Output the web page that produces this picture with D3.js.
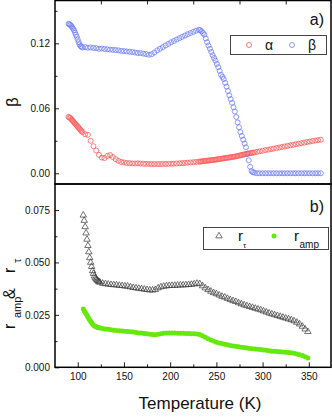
<!DOCTYPE html>
<html><head><meta charset="utf-8">
<script src="https://cdn.jsdelivr.net/npm/d3@7"></script>
<style>
body{margin:0;background:#fff}
svg{display:block}
text{font-family:"Liberation Sans",Arial,sans-serif;fill:#111}
</style>
</head><body>
<svg id="c" width="332" height="417"></svg>
<script>
// ---------- data ----------
const tempA = [90,91,92,93,94,95,96,97,98,99,100,101,102,103,104,105,108,111,114,117,120,123,126,129,132,135,138,141,144,147,150,153,156,159,162,165,168,171,174,177,180,183,186,189,192,195,198,201,204,207,210,213,216,219,222,225,228,231,232.5,234,235.5,237,238.5,240,241.5,243,244.5,246,247.5,249,250.5,252,253.5,255,256.5,258,259.5,261,262.5,264,265.5,267,268.5,270,271.5,273,274.5,276,277.5,279,280.5,282,283.5,285,286.5,288,289.5,291,294,297,300,303,306,309,312,315,318,321,324,327,330,333,336,339,342,345,348,351,354,357,360,363];
const alpha = [0.052,0.0515,0.051,0.050,0.049,0.048,0.047,0.046,0.045,0.044,0.043,0.042,0.041,0.040,0.039,0.038,0.036,0.0355,0.030,0.025,0.021,0.017,0.0145,0.014,0.016,0.0168,0.015,0.013,0.0115,0.0105,0.010,0.0095,0.0093,0.0091,0.009,0.0092,0.009,0.0088,0.0087,0.0086,0.0085,0.0085,0.0085,0.0085,0.0086,0.0086,0.0087,0.0088,0.0089,0.009,0.0092,0.0094,0.0096,0.0098,0.0100,0.0102,0.0105,0.0107,0.0108,0.011,0.0112,0.0113,0.0115,0.0116,0.0118,0.0119,0.0121,0.0122,0.0124,0.0126,0.0128,0.013,0.0132,0.0134,0.0136,0.0138,0.014,0.0142,0.0144,0.0146,0.0148,0.015,0.0152,0.0155,0.0157,0.016,0.0163,0.0166,0.0169,0.0172,0.0175,0.0178,0.018,0.0183,0.0185,0.0188,0.019,0.0193,0.0198,0.0203,0.0208,0.0213,0.0218,0.0223,0.0228,0.0233,0.0238,0.0243,0.0248,0.0253,0.0258,0.0263,0.0268,0.0273,0.0278,0.0283,0.0288,0.0293,0.0298,0.0302,0.0306,0.031];
const beta = [0.138,0.1375,0.137,0.136,0.1348,0.1335,0.132,0.130,0.128,0.126,0.1235,0.121,0.119,0.1175,0.1168,0.1162,0.1165,0.116,0.1162,0.1158,0.1155,0.115,0.1152,0.1148,0.1145,0.1142,0.114,0.1138,0.1135,0.113,0.1128,0.1125,0.1122,0.112,0.1115,0.111,0.111,0.1105,0.110,0.1095,0.110,0.1115,0.1135,0.115,0.1165,0.118,0.1195,0.121,0.1222,0.1235,0.1248,0.126,0.1272,0.1284,0.1295,0.1306,0.1316,0.1325,0.1322,0.131,0.1295,0.128,0.1245,0.121,0.118,0.115,0.112,0.109,0.1065,0.104,0.101,0.098,0.0945,0.091,0.089,0.087,0.0835,0.080,0.076,0.072,0.0685,0.065,0.061,0.057,0.052,0.047,0.0425,0.038,0.0345,0.031,0.0275,0.024,0.018,0.012,0.006,0.002,0.001,0.0005,0,0,0,0,0,0,0,0,0,0,0,0,0,0,0,0,0,0,0,0,0,0,0,0];

const tempB = [106,107,108,109,110,111,112,113,114,115,116,117,118,119,120,121,122,123,124,127,130,133,136,139,142,145,148,151,154,157,160,163,166,169,172,175,178,181,184,187,190,193,196,199,202,205,208,211,214,217,220,223,226,229,232,235,238,241,244,247,250,253,256,259,262,265,268,271,274,277,280,283,286,289,292,295,298,301,304,307,310,313,316,319,322,325,328,331,334,337,340,343,346,349];
const rTau = [0.0725,0.070,0.067,0.064,0.061,0.058,0.055,0.0522,0.050,0.048,0.046,0.0447,0.0435,0.0426,0.042,0.0415,0.0411,0.0408,0.0405,0.040,0.0398,0.0396,0.0394,0.0393,0.0392,0.039,0.0389,0.0387,0.0386,0.0383,0.038,0.0378,0.0376,0.0374,0.0372,0.037,0.0368,0.0368,0.037,0.0378,0.0383,0.0386,0.0388,0.0389,0.039,0.039,0.0391,0.0392,0.0392,0.0393,0.0394,0.0395,0.0397,0.040,0.0398,0.0388,0.0378,0.037,0.0362,0.0355,0.035,0.0344,0.0338,0.0334,0.0328,0.0322,0.0317,0.0313,0.0307,0.0302,0.0297,0.0293,0.0289,0.0285,0.0281,0.0277,0.0273,0.0268,0.0263,0.0258,0.0254,0.025,0.0246,0.0242,0.0238,0.0234,0.023,0.0226,0.0221,0.0214,0.0206,0.0195,0.0182,0.017];
const rAmp = [0.0278,0.027,0.0263,0.0255,0.0248,0.024,0.0232,0.0225,0.0218,0.0212,0.0207,0.0202,0.0198,0.0195,0.0193,0.0191,0.019,0.0188,0.0187,0.0185,0.0183,0.0181,0.0179,0.0177,0.0175,0.0174,0.0173,0.0172,0.0171,0.017,0.0168,0.0166,0.0164,0.0163,0.0161,0.016,0.0158,0.0156,0.0155,0.0157,0.016,0.0162,0.0163,0.0163,0.0163,0.0163,0.0162,0.0162,0.0162,0.0161,0.0161,0.016,0.016,0.0159,0.0156,0.015,0.0143,0.0136,0.013,0.0125,0.012,0.0116,0.0113,0.011,0.0107,0.0104,0.0102,0.01,0.0098,0.0096,0.0094,0.0092,0.009,0.0089,0.0087,0.0086,0.0085,0.0083,0.0081,0.0079,0.0077,0.0076,0.0075,0.0074,0.0073,0.0072,0.0071,0.0069,0.0067,0.0064,0.006,0.0056,0.005,0.0044];

const xMajor = [100,150,200,250,300,350];
const xMinor = [125,175,225,275,325];
const yMajorA = [0,0.06,0.12];
const yMinorA = [0.03,0.09,0.15];
const yMajorB = [0,0.025,0.05,0.075];
const yMinorB = [0.0125,0.0375,0.0625];

// ---------- layout ----------
const svg = d3.select("#c");
const L = 55, R = 331, TOP = 0.5, MID = 184, BOT = 367.3;
const x = d3.scaleLinear().domain([75.4, 374]).range([L, R]);
const yA = d3.scaleLinear().domain([-0.0099, 0.160]).range([MID, 0]);
const yB = d3.scaleLinear().domain([0, 0.0874]).range([BOT, MID]);

const axisStyle = g => {
  g.select(".domain").remove();
  g.selectAll(".tick line").attr("stroke", "#222").attr("stroke-width", 1);
  g.selectAll(".tick text").attr("font-size", 10).attr("fill", "#111")
    .attr("font-family", '"Liberation Sans",Arial,sans-serif');
};

// y axes
svg.append("g").attr("transform", `translate(${L},0)`)
  .call(d3.axisLeft(yA).tickValues(yMajorA).tickFormat(d3.format(".2f")).tickSize(-4).tickPadding(5)).call(axisStyle);
svg.append("g").attr("transform", `translate(${L},0)`)
  .call(d3.axisLeft(yA).tickValues(yMinorA).tickFormat("").tickSize(-2.5)).call(axisStyle);
svg.append("g").attr("transform", `translate(${L},0)`)
  .call(d3.axisLeft(yB).tickValues(yMajorB).tickFormat(d3.format(".3f")).tickSize(-4).tickPadding(5)).call(axisStyle);
svg.append("g").attr("transform", `translate(${L},0)`)
  .call(d3.axisLeft(yB).tickValues(yMinorB).tickFormat("").tickSize(-2.5)).call(axisStyle);

// x axes
svg.append("g").attr("transform", `translate(0,${BOT})`)
  .call(d3.axisBottom(x).tickValues(xMajor).tickFormat(d3.format("d")).tickSize(-5).tickPadding(6)).call(axisStyle);
svg.append("g").attr("transform", `translate(0,${BOT})`)
  .call(d3.axisBottom(x).tickValues(xMinor).tickFormat("").tickSize(-3)).call(axisStyle);
svg.append("g").attr("transform", `translate(0,${TOP})`)
  .call(d3.axisTop(x).tickValues(xMinor).tickFormat("").tickSize(-4)).call(axisStyle);

// frames
svg.append("rect").attr("x", L).attr("y", TOP).attr("width", R - L).attr("height", MID - TOP)
  .attr("fill", "none").attr("stroke", "#000").attr("stroke-width", 1.5);
svg.append("rect").attr("x", L).attr("y", MID).attr("width", R - L).attr("height", BOT - MID)
  .attr("fill", "none").attr("stroke", "#000").attr("stroke-width", 1.5);

// ---------- panel a ----------
const redC = "#ff5a5a", blueC = "#6f7dff", triC = "#3a3a3a", greenC = "#66e80c";
const gA = svg.append("g");
gA.selectAll(".a").data(tempA.map((t, i) => [t, alpha[i]])).join("circle")
  .attr("cx", d => x(d[0])).attr("cy", d => yA(d[1])).attr("r", 2.5)
  .attr("fill", "none").attr("stroke", redC).attr("stroke-width", 0.8);
gA.selectAll(".b").data(tempA.map((t, i) => [t, beta[i]])).join("circle")
  .attr("cx", d => x(d[0])).attr("cy", d => yA(d[1])).attr("r", 2.5)
  .attr("fill", "none").attr("stroke", blueC).attr("stroke-width", 0.8);

// ---------- panel b ----------
const gB = svg.append("g");
const tri = d3.symbol(d3.symbolTriangle, 18);
gB.selectAll(".t").data(tempB.map((t, i) => [t, rTau[i]])).join("path")
  .attr("d", tri).attr("transform", d => `translate(${x(d[0])},${yB(d[1])})`)
  .attr("fill", "none").attr("stroke", triC).attr("stroke-width", 0.7);
gB.selectAll(".g").data(tempB.map((t, i) => [t, rAmp[i]])).join("circle")
  .attr("cx", d => x(d[0])).attr("cy", d => yB(d[1])).attr("r", 2.5)
  .attr("fill", greenC);

// ---------- labels ----------
svg.append("text").attr("x", 200).attr("y", 409).attr("text-anchor", "middle")
  .attr("font-size", 17).text("Temperature (K)");
svg.append("text").attr("transform", "translate(18,102) rotate(-90)").attr("text-anchor", "middle")
  .attr("font-size", 17).text("β");

const yl = svg.append("text").attr("transform", "rotate(-90)");
yl.append("tspan").attr("x", -329).attr("y", 15).attr("font-size", 16).text("r");
yl.append("tspan").attr("x", -318).attr("y", 21).attr("font-size", 11).text("amp");
yl.append("tspan").attr("x", -299).attr("y", 15).attr("font-size", 16).text("&");
yl.append("tspan").attr("x", -273).attr("y", 15).attr("font-size", 16).text("r");
yl.append("tspan").attr("x", -263).attr("y", 21).attr("font-size", 11).text("τ");

svg.append("text").attr("x", 324).attr("y", 25).attr("text-anchor", "end").attr("font-size", 16).text("a)");
svg.append("text").attr("x", 324).attr("y", 212).attr("text-anchor", "end").attr("font-size", 16).text("b)");

// legend a
svg.append("rect").attr("x", 230.5).attr("y", 35.5).attr("width", 96).attr("height", 19)
  .attr("fill", "#fff").attr("stroke", "#444").attr("stroke-width", 1);
svg.append("circle").attr("cx", 249).attr("cy", 45).attr("r", 2.5).attr("fill", "none").attr("stroke", redC).attr("stroke-width", 0.8);
svg.append("text").attr("x", 269).attr("y", 50).attr("text-anchor", "middle").attr("font-size", 14).text("α");
svg.append("circle").attr("cx", 292).attr("cy", 45).attr("r", 2.5).attr("fill", "none").attr("stroke", blueC).attr("stroke-width", 0.8);
svg.append("text").attr("x", 312).attr("y", 50).attr("text-anchor", "middle").attr("font-size", 14).text("β");

// legend b
svg.append("rect").attr("x", 203.5).attr("y", 227.5).attr("width", 125).attr("height", 22)
  .attr("fill", "#fff").attr("stroke", "#444").attr("stroke-width", 1);
svg.append("path").attr("d", tri).attr("transform", "translate(219,236)")
  .attr("fill", "none").attr("stroke", triC).attr("stroke-width", 0.7);
const lt1 = svg.append("text").attr("x", 238).attr("y", 241);
lt1.append("tspan").attr("font-size", 15).text("r");
lt1.append("tspan").attr("x", 243).attr("y", 248).attr("font-size", 8).text("τ");
svg.append("circle").attr("cx", 274).attr("cy", 236).attr("r", 2.5).attr("fill", greenC);
const lt2 = svg.append("text").attr("x", 294).attr("y", 241);
lt2.append("tspan").attr("font-size", 15).text("r");
lt2.append("tspan").attr("x", 299.5).attr("y", 248).attr("font-size", 10).text("amp");
</script>
</body></html>
